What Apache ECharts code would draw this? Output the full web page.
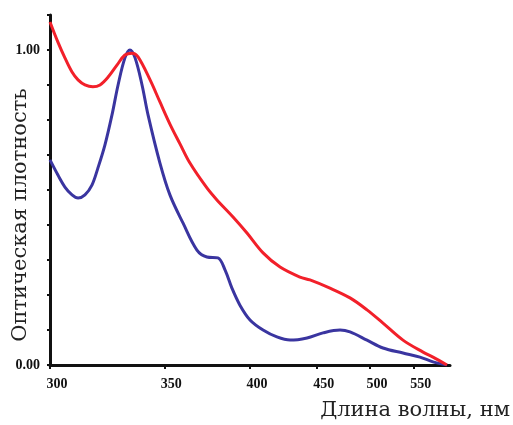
<!DOCTYPE html>
<html>
<head>
<meta charset="utf-8">
<script src="https://cdn.jsdelivr.net/npm/echarts@6/dist/echarts.min.js"></script>
<style>
  html, body { margin: 0; padding: 0; background: #fff; }
  #chart { width: 513px; height: 425px; }
</style>
</head>
<body>
<div id="chart"></div>
<script>
// длина волны, нм (шкала по оси x линейна по 1/λ)
const tickWaves = [300, 350, 400, 450, 500, 550]
const yLabelValues = [0, 1]

const blueWave = [300.0, 303.0, 305.7, 308.5, 310.9, 313.7, 316.6, 319.1, 322.1, 325.2, 327.9, 331.0, 333.3, 335.7, 339.0, 341.9, 347.8, 352.9, 359.8, 367.5, 373.2, 379.7, 384.0, 388.3, 393.4, 400.0, 408.9, 418.8, 428.6, 442.0, 455.4, 470.6, 480.0, 496.9, 513.9, 536.9, 558.1, 575.5, 595.5]
const blueAbs = [0.651, 0.603, 0.565, 0.540, 0.530, 0.540, 0.571, 0.625, 0.698, 0.794, 0.889, 0.975, 1.000, 0.975, 0.889, 0.794, 0.641, 0.540, 0.451, 0.365, 0.343, 0.340, 0.302, 0.244, 0.190, 0.143, 0.111, 0.089, 0.079, 0.086, 0.102, 0.111, 0.105, 0.079, 0.054, 0.038, 0.025, 0.010, 0]

const redWave = [300.0, 303.0, 305.7, 308.5, 310.9, 313.7, 317.0, 320.0, 323.5, 327.4, 331.0, 334.3, 337.1, 342.9, 347.8, 352.9, 358.2, 363.6, 373.2, 379.1, 389.0, 398.0, 408.9, 421.1, 436.4, 444.4, 461.5, 480.0, 496.9, 513.9, 536.9, 562.1, 575.5, 595.5]
const redAbs = [1.089, 1.025, 0.975, 0.930, 0.905, 0.889, 0.883, 0.889, 0.914, 0.952, 0.984, 0.990, 0.978, 0.905, 0.835, 0.765, 0.702, 0.641, 0.562, 0.524, 0.470, 0.419, 0.356, 0.311, 0.279, 0.270, 0.244, 0.213, 0.175, 0.133, 0.079, 0.041, 0.025, 0]

const toNu = w => 1000 / w
const pairs = (ws, as) => ws.map((w, i) => [toNu(w), as[i]])

const serifLabel = {
  color: '#111',
  fontFamily: 'Liberation Serif',
  fontWeight: 'bold',
  fontSize: 14
}

const option = {
  animation: false,
  grid: { left: 50, right: 63, top: 15, bottom: 60, outerBoundsMode: 'none', containLabel: false },
  xAxis: {
    type: 'value',
    inverse: true,
    min: 1000 / 600,
    max: 1000 / 300,
    axisLine: { lineStyle: { color: '#111', width: 3 } },
    axisTick: {
      show: true,
      length: 4,
      lineStyle: { color: '#111', width: 2 },
      customValues: tickWaves.map(toNu)
    },
    axisLabel: Object.assign({}, serifLabel, {
      margin: 12,
      padding: [0, 0, 0, 14],
      customValues: tickWaves.map(toNu),
      formatter: v => String(Math.round(1000 / v))
    }),
    splitLine: { show: false }
  },
  yAxis: {
    type: 'value',
    min: 0,
    max: 10 / 9,
    interval: 1 / 9,
    axisLine: { show: true, lineStyle: { color: '#111', width: 3 } },
    axisTick: { show: true, length: 3, lineStyle: { color: '#111', width: 2 } },
    axisLabel: Object.assign({}, serifLabel, {
      margin: 10,
      customValues: yLabelValues,
      formatter: v => v.toFixed(2)
    }),
    splitLine: { show: false }
  },
  graphic: [
    {
      type: 'text',
      x: 21,
      y: 215,
      rotation: Math.PI / 2,
      style: {
        text: 'Оптическая плотность',
        font: '21px "DejaVu Serif"',
        fill: '#222',
        align: 'center',
        verticalAlign: 'middle'
      }
    },
    {
      type: 'text',
      right: 3,
      top: 400,
      style: {
        text: 'Длина волны, нм',
        font: '21px "DejaVu Serif"',
        fill: '#222'
      }
    }
  ],
  series: [
    {
      type: 'line',
      data: pairs(redWave, redAbs),
      smooth: 0.35,
      showSymbol: false,
      lineStyle: { color: '#f2202a', width: 3 },
      z: 3
    },
    {
      type: 'line',
      data: pairs(blueWave, blueAbs),
      smooth: 0.35,
      showSymbol: false,
      lineStyle: { color: '#3a35a0', width: 3 },
      z: 2
    }
  ]
}

const chart = echarts.init(document.getElementById('chart'))
chart.setOption(option)
</script>
</body>
</html>
